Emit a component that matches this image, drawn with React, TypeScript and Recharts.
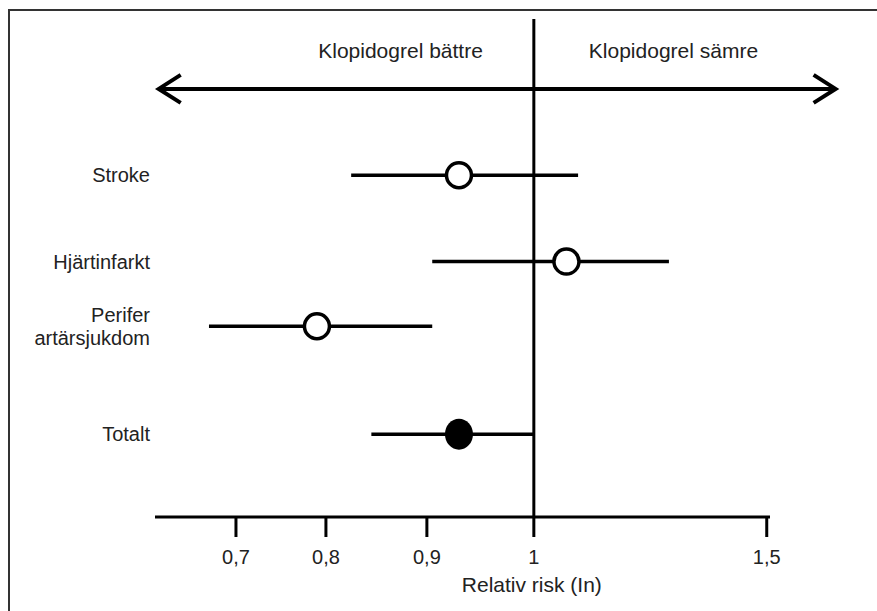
import React from 'react';
import {
  ScatterChart,
  Scatter,
  XAxis,
  YAxis,
  ErrorBar,
  ReferenceLine,
} from 'recharts';

// rader i diagrammet (uppifrån och ned)
const ROWS = ['Stroke', 'Hjärtinfarkt', 'Perifer\nartärsjukdom', 'Totalt'];
const ROW_Y = [1, 2, 2.75, 4];
const RR_POINT = [0.93, 1.07, 0.79, 0.93];
const RR_LOW = [0.825, 0.905, 0.67, 0.845];
const RR_HIGH = [1.095, 1.29, 0.905, 1.0];
const FILLED = [false, false, false, true];

// axelns skala är inte jämn i originalet, så skalsteg anges per tick
const RR_TICKS = [0.7, 0.8, 0.9, 1, 1.5];
const TICK_LABELS = ['0,7', '0,8', '0,9', '1', '1,5'];
const AXIS_STOPS = [0, 90, 191, 298, 531];
const RR_MIN = 0.61;
const RR_MAX = 1.507;
const ARROW_RR = [0.613, 1.65];

const FONT = '"Liberation Sans", Arial, Helvetica, sans-serif';

function toAxis(v: number) {
  let i = 0;
  while (i < RR_TICKS.length - 2 && v > RR_TICKS[i + 1]) i++;
  const t = (v - RR_TICKS[i]) / (RR_TICKS[i + 1] - RR_TICKS[i]);
  return AXIS_STOPS[i] + t * (AXIS_STOPS[i + 1] - AXIS_STOPS[i]);
}

const points = ROWS.map((name, i) => {
  const x = toAxis(RR_POINT[i]);
  return {
    name,
    x,
    y: ROW_Y[i],
    err: [x - toAxis(RR_LOW[i]), toAxis(RR_HIGH[i]) - x],
    filled: FILLED[i],
  };
});

const tickValues = RR_TICKS.map(toAxis);

function Marker(props: any) {
  const { cx, cy, payload } = props;
  if (payload.filled) {
    return <ellipse cx={cx} cy={cy} rx={14} ry={15.5} fill="#000" />;
  }
  return <circle cx={cx} cy={cy} r={12.5} fill="#fff" stroke="#000" strokeWidth={3.5} />;
}

function RowTick(props: any) {
  const { x, y, payload } = props;
  const i = ROW_Y.indexOf(payload.value);
  const lines = (ROWS[i] || '').split('\n');
  const start = -((lines.length - 1) * 23) / 2;
  return (
    <text x={x} y={y} textAnchor="end" fontFamily={FONT} fontSize={20} fill="#222">
      {lines.map((l, k) => (
        <tspan key={k} x={x} dy={k === 0 ? start + 7 : 23}>
          {l}
        </tspan>
      ))}
    </text>
  );
}

function Arrow(props: any) {
  const { x1, y1, x2, y2 } = props;
  return (
    <g stroke="#000" strokeWidth={4} fill="none">
      <line x1={x1 + 2} y1={y1} x2={x2 - 2} y2={y2} />
      <polyline points={`${x1 + 23},${y1 - 14} ${x1 + 1},${y1} ${x1 + 23},${y1 + 14}`} />
      <polyline points={`${x2 - 23},${y2 - 14} ${x2 - 1},${y2} ${x2 - 23},${y2 + 14}`} />
    </g>
  );
}

function CenterLabels(props: any) {
  const vb = props.viewBox || {};
  const x = vb.x ?? 534;
  const top = vb.y ?? 19;
  const bottom = top + (vb.height ?? 498);
  return (
    <g fontFamily={FONT} fontSize={21} fill="#222">
      <text x={x - 51} y={top + 39} textAnchor="end">Klopidogrel bättre</text>
      <text x={x + 55} y={top + 39} textAnchor="start">Klopidogrel sämre</text>
      <text x={x - 2} y={bottom + 75} textAnchor="middle">Relativ risk (In)</text>
    </g>
  );
}

export default function App() {
  return (
    <div
      style={{
        position: 'absolute',
        left: 0,
        top: 0,
        width: 877,
        height: 611,
        background: '#fff',
        overflow: 'hidden',
      }}
    >
      <div
        style={{
          position: 'absolute',
          left: 8,
          top: 9,
          right: -10,
          bottom: -10,
          borderTop: '2px solid #333',
          borderLeft: '2px solid #333',
        }}
      />
      <div style={{ position: 'absolute', left: 0, top: 0 }}>
        <ScatterChart
          width={877}
          height={611}
          margin={{ top: 19, right: 107, bottom: 34, left: 0 }}
        >
          <XAxis
            type="number"
            dataKey="x"
            domain={[toAxis(RR_MIN), toAxis(RR_MAX)]}
            allowDataOverflow
            ticks={tickValues}
            tickFormatter={(v: number) => TICK_LABELS[tickValues.indexOf(v)] ?? ''}
            height={60}
            tickSize={20}
            tickMargin={13}
            axisLine={{ stroke: '#000', strokeWidth: 3 }}
            tickLine={{ stroke: '#000', strokeWidth: 3 }}
            tick={{ fill: '#222', fontSize: 20, fontFamily: FONT }}
            interval={0}
          />
          <YAxis
            type="number"
            dataKey="y"
            reversed
            domain={[-0.81, 4.96]}
            allowDataOverflow
            ticks={ROW_Y}
            interval={0}
            width={155}
            axisLine={false}
            tickLine={false}
            tickSize={0}
            tickMargin={5}
            tick={<RowTick />}
          />
          <ReferenceLine
            x={toAxis(1)}
            stroke="#000"
            strokeWidth={3}
            label={(p: any) => <CenterLabels {...p} />}
          />
          <ReferenceLine
            segment={[
              { x: toAxis(ARROW_RR[0]), y: 0 },
              { x: toAxis(ARROW_RR[1]), y: 0 },
            ]}
            ifOverflow="visible"
            shape={(p: any) => <Arrow {...p} />}
          />
          <Scatter data={points} shape={<Marker />} isAnimationActive={false}>
            <ErrorBar
              dataKey="err"
              direction="x"
              width={0}
              stroke="#000"
              strokeWidth={3.5}
              isAnimationActive={false}
            />
          </Scatter>
        </ScatterChart>
      </div>
    </div>
  );
}
